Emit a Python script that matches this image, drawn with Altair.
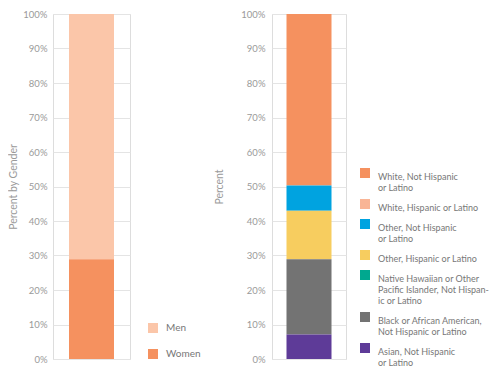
import json
import altair as alt
import pandas as pd

# ---------------- data ----------------
gender = ["Men", "Women"]
gender_pct = [71.1, 28.9]
gender_stack = [1, 0]
gender_colors = ["#FBC6A9", "#F5915F"]

race = [
    "White, Not Hispanic or Latino",
    "White, Hispanic or Latino",
    "Other, Not Hispanic or Latino",
    "Other, Hispanic or Latino",
    "Native Hawaiian or Other Pacific Islander, Not Hispanic or Latino",
    "Black or African American, Not Hispanic or Latino",
    "Asian, Not Hispanic or Latino",
]
race_lines = [
    ["White, Not Hispanic", "or Latino"],
    ["White, Hispanic or Latino"],
    ["Other, Not Hispanic", "or Latino"],
    ["Other, Hispanic or Latino"],
    ["Native Hawaiian or Other", "Pacific Islander, Not Hispan-", "ic or Latino"],
    ["Black or African American,", "Not Hispanic or Latino"],
    ["Asian, Not Hispanic", "or Latino"],
]
race_pct = [49.7, 0.0, 7.3, 14.1, 0.0, 21.8, 7.1]
race_stack = [6, 5, 4, 3, 2, 1, 0]
race_colors = ["#F5915F", "#F9B596", "#00A3E0", "#F7CD5F", "#00A88F", "#737373", "#5E3B98"]

ticks = [0, 10, 20, 30, 40, 50, 60, 70, 80, 90, 100]

FONT = "Lato"

df_g = pd.DataFrame({"group": "all", "gender": gender, "pct": gender_pct, "order": gender_stack})
df_r = pd.DataFrame({"group": "all", "race": race, "pct": race_pct, "order": race_stack})

# multi-line legend labels
expr = ""
for name, lines in zip(race, race_lines):
    expr += f"datum.label == {json.dumps(name)} ? {json.dumps(lines)} : "
expr += "datum.label"


def yaxis(title, title_pad, label_pad):
    return alt.Axis(
        values=ticks,
        labelExpr="datum.value + '%'",
        title=title,
        grid=True,
        gridColor="#e4e4e4",
        gridWidth=1.2,
        domain=False,
        ticks=False,
        labelPadding=label_pad,
        labelFont=FONT,
        labelFontSize=9.5,
        labelColor="#9a9a9a",
        titleFont=FONT,
        titleFontSize=10.5,
        titleFontWeight="normal",
        titleColor="#9a9a9a",
        titlePadding=title_pad,
    )


left = (
    alt.Chart(df_g)
    .mark_bar(size=45)
    .encode(
        x=alt.X("group:N", axis=None),
        y=alt.Y("pct:Q", stack="zero", scale=alt.Scale(domain=[0, 100], nice=False),
                axis=yaxis("Percent by Gender", 4, 6)),
        color=alt.Color(
            "gender:N",
            scale=alt.Scale(domain=gender, range=gender_colors),
            legend=alt.Legend(
                title=None, orient="none", legendX=95, legendY=309,
                symbolType="square", symbolSize=100, symbolStrokeWidth=0,
                labelFont=FONT, labelFontSize=10, labelColor="#777777",
                labelOffset=8, rowPadding=16, padding=0,
            ),
        ),
        order=alt.Order("order:Q"),
    )
    .properties(width=77, height=345)
)

right = (
    alt.Chart(df_r)
    .mark_bar(size=45)
    .encode(
        x=alt.X("group:N", axis=None),
        y=alt.Y("pct:Q", stack="zero", scale=alt.Scale(domain=[0, 100], nice=False),
                axis=yaxis("Percent", 16, 7)),
        color=alt.Color(
            "race:N",
            scale=alt.Scale(domain=race, range=race_colors),
            legend=alt.Legend(
                title=None, orient="none", legendX=88, legendY=154,
                symbolType="square", symbolSize=100, symbolStrokeWidth=0,
                labelFont=FONT, labelFontSize=9, labelColor="#777777",
                labelOffset=8, rowPadding=6, padding=0, labelLimit=220,
                labelBaseline="top", labelExpr=expr,
            ),
        ),
        order=alt.Order("order:Q"),
    )
    .properties(width=74, height=345)
)

chart = (
    alt.hconcat(left, right, spacing=12)
    .resolve_scale(color="independent", y="independent")
    .properties(padding=0)
    .configure_view(stroke=None)
    .configure(background="white", style={"guide-label": {"lineHeight": 11}})
)

chart.save("out.html", embed_options={"renderer": "svg", "actions": False})
